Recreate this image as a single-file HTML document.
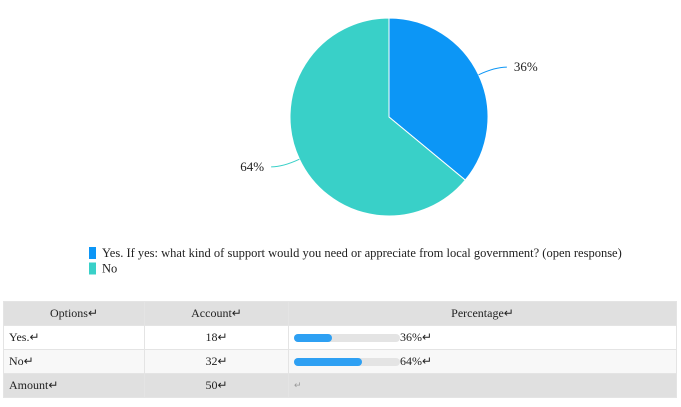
<!DOCTYPE html>
<html><head><meta charset="utf-8"><style>
body{margin:0;width:681px;height:407px;background:#fff;font-family:"Liberation Serif",serif;overflow:hidden;position:relative}
table{position:absolute;left:3px;top:301px;width:674px;border-collapse:collapse;font-size:12px;color:#222}
td{height:24px;border:1px solid #e4e4e4;padding:0 5px;box-sizing:border-box}
.c{text-align:center}
.hd td{background:#e0e0e0}
.bar{display:inline-block;vertical-align:middle;width:106px;height:8px;border-radius:4px;background:#e4e4e4;position:relative;margin-left:0}
.bar i{position:absolute;left:0;top:0;height:8px;border-radius:4px;background:#2ea0f3}
</style></head><body>
<svg id="pie" width="681" height="290" style="position:absolute;left:0;top:0"></svg>
<table>
<tr class="hd"><td class="c" style="width:141px">Options↵</td><td class="c" style="width:144px">Account↵</td><td class="c">Percentage↵</td></tr>
<tr><td>Yes.↵</td><td class="c">18↵</td><td><span class="bar"><i style="width:36%"></i></span>36%↵</td></tr>
<tr style="background:#f8f8f8"><td>No↵</td><td class="c">32↵</td><td><span class="bar"><i style="width:64%"></i></span>64%↵</td></tr>
<tr class="hd"><td>Amount↵</td><td class="c">50↵</td><td style="font-size:9px;color:#999">↵</td></tr>
</table>
<script>
const categories=["Yes. If yes: what kind of support would you need or appreciate from local government? (open response)","No"];
const values=[18,32];
const colors=["#0c96f6","#39d0c8"];
const svg=document.getElementById('pie');const NS='http://www.w3.org/2000/svg';
const cx=389,cy=117,r=99;const total=values.reduce((a,b)=>a+b,0);
let a0=-Math.PI/2;
values.forEach((v,i)=>{
 const a1=a0+v/total*2*Math.PI;
 const p=document.createElementNS(NS,'path');
 const large=(a1-a0)>Math.PI?1:0;
 p.setAttribute('d',`M${cx},${cy}L${cx+r*Math.cos(a0)},${cy+r*Math.sin(a0)}A${r},${r} 0 ${large} 1 ${cx+r*Math.cos(a1)},${cy+r*Math.sin(a1)}Z`);
 p.setAttribute('fill',colors[i]);p.setAttribute('stroke','#fff');p.setAttribute('stroke-width','1');
 
 
 svg.appendChild(p);
 const am=(a0+a1)/2;const right=Math.cos(am)>=0;
 const x1=cx+r*Math.cos(am),y1=cy+r*Math.sin(am);
 const x2=cx+(r+18)*Math.cos(am),y2=cy+(r+18)*Math.sin(am);
 const x3=x2+(right?12:-12);
 const l=document.createElementNS(NS,'path');
 l.setAttribute('d',`M${x1},${y1}Q${x2},${y2} ${x3},${y2}`);
 l.setAttribute('fill','none');l.setAttribute('stroke',colors[i]);
 
 
 svg.appendChild(l);
 const t=document.createElementNS(NS,'text');
 t.setAttribute('x',right?x3+7:x3-7);t.setAttribute('y',y2+4);
 t.setAttribute('text-anchor',right?'start':'end');t.setAttribute('font-size','13');t.setAttribute('fill','#222');
 t.setAttribute('font-family','Liberation Serif, serif');
 t.textContent=Math.round(v/total*100)+'%';
 
 
 svg.appendChild(t);
 a0=a1;
});
categories.forEach((c,i)=>{
 const y=247+i*15.5;
 const s=document.createElementNS(NS,'rect');
 s.setAttribute('x',89);s.setAttribute('y',y);s.setAttribute('width',7);s.setAttribute('height',12);s.setAttribute('fill',colors[i]);
 
 
 svg.appendChild(s);
 const t=document.createElementNS(NS,'text');
 t.setAttribute('x',102);t.setAttribute('y',y+10);t.setAttribute('font-size','12.5');t.setAttribute('fill','#222');
 t.setAttribute('font-family','Liberation Serif, serif');
 t.textContent=c;
 
 
 svg.appendChild(t);
});
</script>
</body></html>
